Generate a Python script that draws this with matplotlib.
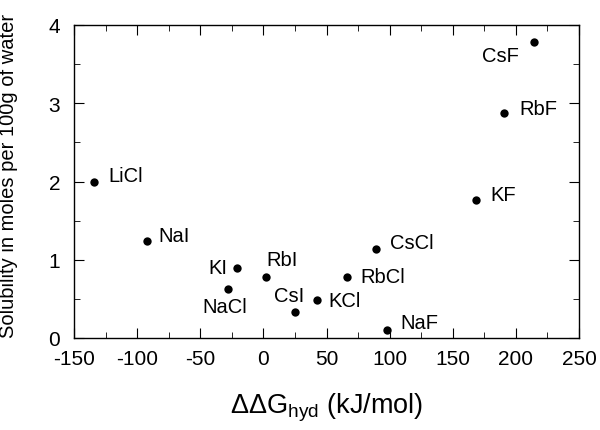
import matplotlib
matplotlib.use("Agg")
import matplotlib.pyplot as plt
from matplotlib.ticker import MultipleLocator

plt.rcParams['font.family'] = ['Liberation Sans', 'DejaVu Sans']
plt.rcParams['mathtext.fontset'] = 'custom'
plt.rcParams['mathtext.rm'] = 'Liberation Sans'
plt.rcParams['mathtext.it'] = 'Liberation Sans'
plt.rcParams['mathtext.default'] = 'regular'
plt.rcParams['axes.unicode_minus'] = False

salts = ['LiCl', 'NaI', 'KI', 'NaCl', 'RbI', 'CsI', 'KCl', 'RbCl', 'CsCl', 'NaF', 'KF', 'RbF', 'CsF']
ddg = [-134, -92, -21, -28, 2, 25, 42.5, 66, 89, 98, 168.5, 190.5, 214]
solubility = [2.0, 1.24, 0.90, 0.63, 0.78, 0.33, 0.49, 0.78, 1.14, 0.10, 1.76, 2.88, 3.78]

# label offsets in pixels (dx, dy) and alignment
offsets = {
    'LiCl': (14, 6, 'left'), 'NaI': (11, 5, 'left'), 'KI': (-9, 0, 'right'),
    'NaCl': (-3, -18, 'center'), 'RbI': (16, 17, 'center'), 'CsI': (-6, 17, 'center'),
    'KCl': (11, -1, 'left'), 'RbCl': (14, 0, 'left'), 'CsCl': (14, 6, 'left'),
    'NaF': (13, 8, 'left'), 'KF': (14, 6, 'left'), 'RbF': (15, 4, 'left'),
    'CsF': (-15, -13, 'right'),
}

fig = plt.figure(figsize=(6.0, 4.31), dpi=100)
ax = fig.add_axes([74/600, 1-339/431, (579-74)/600, (339-26)/431])
ax.scatter(ddg, solubility, s=36, color='black', zorder=3, linewidths=0)
for name, x, y in zip(salts, ddg, solubility):
    dx, dy, ha = offsets[name]
    ax.annotate(name, (x, y), xytext=(dx, dy), textcoords='offset pixels',
                ha=ha, va='center', fontsize=14.5)

ax.set_xlim(-150, 250)
ax.set_ylim(0, 4)
ax.xaxis.set_major_locator(MultipleLocator(50))
ax.xaxis.set_minor_locator(MultipleLocator(25))
ax.yaxis.set_major_locator(MultipleLocator(1))
ax.yaxis.set_minor_locator(MultipleLocator(0.5))
ax.tick_params(which='both', direction='in', top=True, right=True, labelsize=15)
ax.tick_params(axis='x', which='major', pad=8)
ax.tick_params(axis='y', which='major', pad=10)
ax.tick_params(which='major', length=7)
ax.tick_params(which='minor', length=4)
for s in ax.spines.values():
    s.set_linewidth(1.0)

ax.set_xlabel(r'ΔΔG$_{hyd}$ (kJ/mol)', fontsize=19.5)
ax.xaxis.set_label_coords(0.5, -(392-339)/313, transform=ax.transAxes)
ax.set_ylabel('Solubility in moles per 100g of water', fontsize=14.5)
ax.yaxis.set_label_coords(-(74-18)/505, 0.52, transform=ax.transAxes)

fig.savefig('out.png', dpi=100)
